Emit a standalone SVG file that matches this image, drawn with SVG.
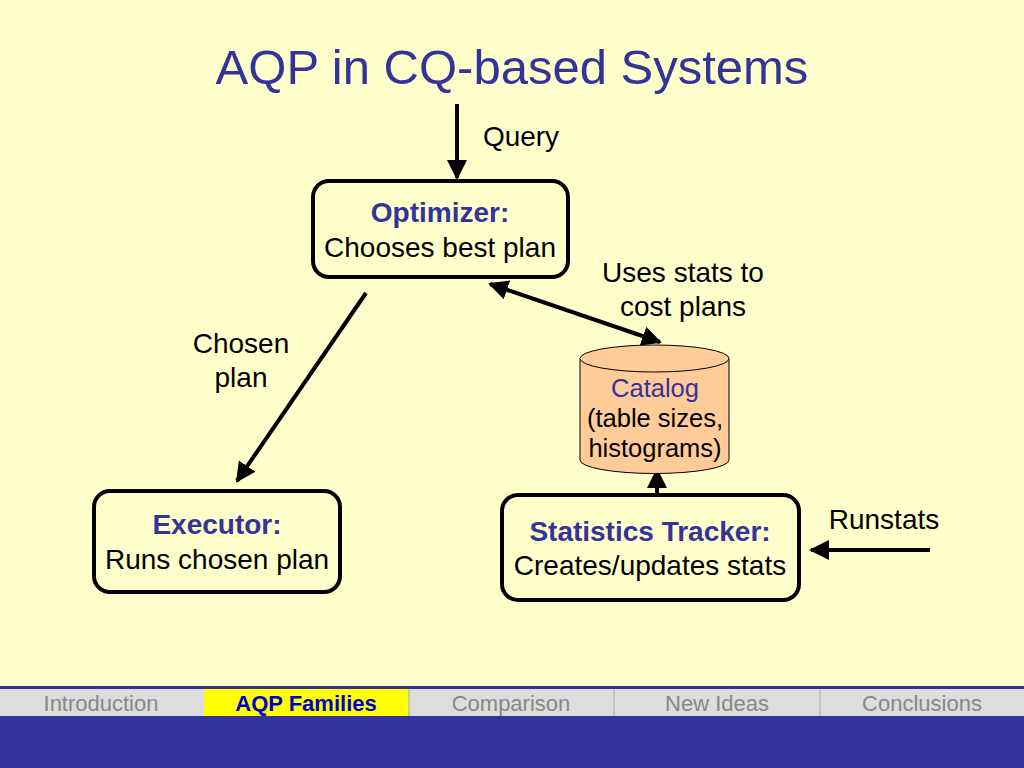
<svg xmlns="http://www.w3.org/2000/svg" width="1024" height="768" viewBox="0 0 1024 768">
<defs>
<style>
.box{fill:#FFFFCC;stroke:#000;stroke-width:4}
.t{font-family:"Liberation Sans",Arial,sans-serif;font-size:28px;fill:#000;text-anchor:middle}
.c{font-size:25.5px}
.b{font-weight:bold;fill:#333399}
.ln{stroke:#000;stroke-width:4;fill:none}
.nav{font-family:"Liberation Sans",Arial,sans-serif;font-size:22px;fill:#888;text-anchor:middle}
</style>
<marker id="ah" viewBox="0 0 10 10" refX="9" refY="5" markerWidth="5" markerHeight="5" orient="auto-start-reverse" markerUnits="strokeWidth">
<path d="M0,0 L10,5 L0,10 z" fill="#000"/>
</marker>
</defs>
<rect width="1024" height="768" fill="#FFFFCC"/>
<text x="512" y="84" font-family="Liberation Sans,Arial,sans-serif" font-size="49" fill="#333399" text-anchor="middle">AQP in CQ-based Systems</text>

<g id="connectors">
<line class="ln" x1="457" y1="104" x2="457" y2="178" marker-end="url(#ah)"/>
<line class="ln" x1="366" y1="293" x2="237" y2="481" marker-end="url(#ah)"/>
<line class="ln" x1="490" y1="284" x2="660" y2="342" marker-start="url(#ah)" marker-end="url(#ah)"/>
<line class="ln" x1="657" y1="495" x2="657" y2="470" marker-end="url(#ah)"/>
<line class="ln" x1="930" y1="550" x2="811" y2="550" marker-end="url(#ah)"/>
</g>

<g id="labels">
<text class="t" x="521" y="146">Query</text>
<text class="t" x="241" y="353">Chosen</text>
<text class="t" x="241" y="387">plan</text>
<text class="t" x="683" y="282">Uses stats to</text>
<text class="t" x="683" y="316">cost plans</text>
<text class="t" x="884" y="529">Runstats</text>
</g>

<g id="optimizer">
<rect class="box" x="313" y="181" width="255" height="96" rx="16"/>
<text class="t b" x="440" y="222">Optimizer:</text>
<text class="t" x="440" y="257">Chooses best plan</text>
</g>

<g id="executor">
<rect class="box" x="94" y="491" width="246" height="101" rx="16"/>
<text class="t b" x="217" y="534">Executor:</text>
<text class="t" x="217" y="569">Runs chosen plan</text>
</g>

<g id="stats-tracker">
<rect class="box" x="502" y="495" width="297" height="105" rx="16"/>
<text class="t b" x="650" y="541">Statistics Tracker:</text>
<text class="t" x="650" y="575">Creates/updates stats</text>
</g>

<g id="catalog">
<path d="M580,358.5 L580,460 A74.5,13.5 0 0 0 729,460 L729,358.5" fill="#FFCC99" stroke="#000" stroke-width="1"/>
<ellipse cx="654.5" cy="358.5" rx="74.5" ry="13.5" fill="#FFCC99" stroke="#000" stroke-width="1"/>
<text class="t c" x="655" y="397" style="fill:#333399">Catalog</text>
<text class="t c" x="655" y="427">(table sizes,</text>
<text class="t c" x="655" y="457">histograms)</text>
</g>

<g id="footer">
<rect x="0" y="686" width="1024" height="82" fill="#333399"/>
<rect x="0" y="689" width="1024" height="27" fill="#DDDDDD"/>
<rect x="204" y="689" width="205" height="27" fill="#FFFF00"/>
<line x1="409" y1="689" x2="409" y2="716" stroke="#AAAAAA"/>
<line x1="614" y1="689" x2="614" y2="716" stroke="#AAAAAA"/>
<line x1="820" y1="689" x2="820" y2="716" stroke="#AAAAAA"/>
<text class="nav" x="101" y="711">Introduction</text>
<text class="nav" x="306" y="711" style="fill:#0000CC;font-weight:bold">AQP Families</text>
<text class="nav" x="511" y="711">Comparison</text>
<text class="nav" x="717" y="711">New Ideas</text>
<text class="nav" x="922" y="711">Conclusions</text>
</g>
</svg>
